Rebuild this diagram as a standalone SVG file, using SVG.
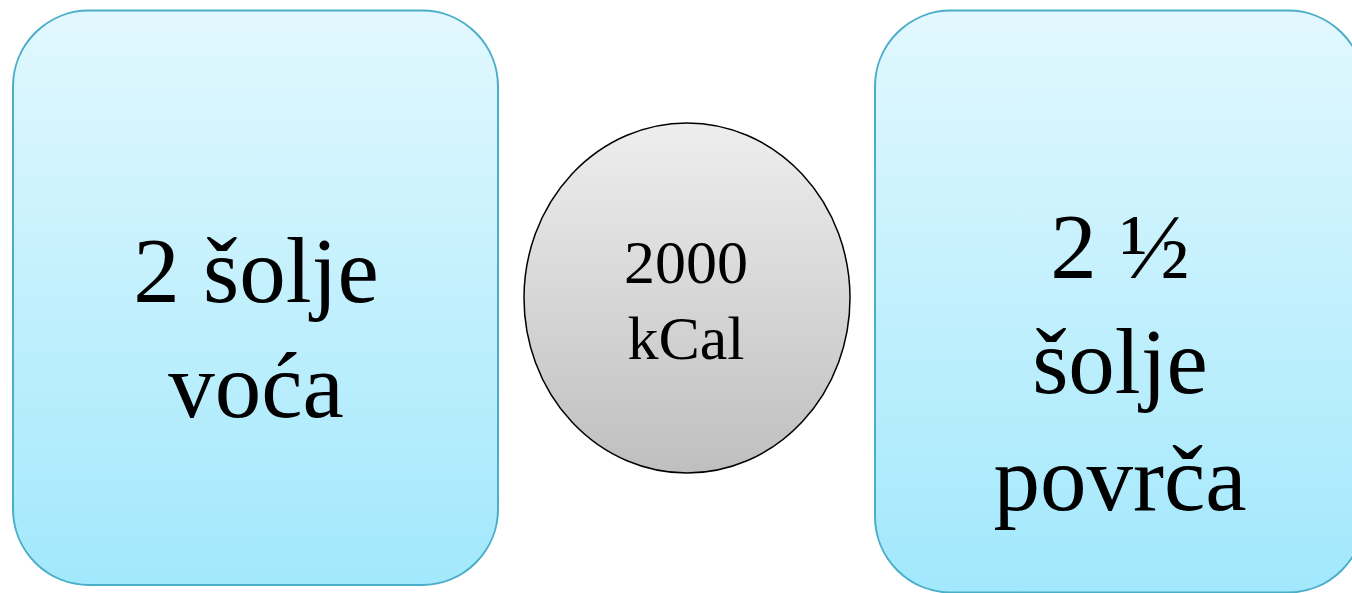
<svg xmlns="http://www.w3.org/2000/svg" width="1352" height="593" viewBox="0 0 1352 593">
<defs>
<linearGradient id="blueGrad" x1="0" y1="0" x2="0" y2="1">
<stop offset="0" stop-color="#e2f8fe"/>
<stop offset="1" stop-color="#a2e8fc"/>
</linearGradient>
<linearGradient id="greyGrad" x1="0" y1="0" x2="0" y2="1">
<stop offset="0" stop-color="#eeeeee"/>
<stop offset="1" stop-color="#bfbfbf"/>
</linearGradient>
<style>
.box{fill:url(#blueGrad);stroke:#4aaec8;stroke-width:2}
.circ{fill:url(#greyGrad);stroke:#000;stroke-width:1.5}
.big{font-family:"Liberation Serif","Times New Roman",serif;font-size:93px;fill:#000;text-anchor:middle}
.mid{font-family:"Liberation Serif","Times New Roman",serif;font-size:62px;fill:#000;text-anchor:middle}
</style>
</defs>
<rect width="1352" height="593" fill="#ffffff"/>
<g id="connectors"/>
<g id="node-left">
<rect class="box" x="13" y="10.5" width="485" height="574.5" rx="76" ry="76"/>
<text class="big" x="256" y="302">2 šolje</text>
<text class="big" x="256" y="417">voća</text>
</g>
<g id="node-center">
<ellipse class="circ" cx="687" cy="298" rx="163" ry="175"/>
<text class="mid" x="686" y="283">2000</text>
<text class="mid" x="686" y="359">kCal</text>
</g>
<g id="node-right">
<rect class="box" x="875" y="10.5" width="489" height="582" rx="76" ry="76"/>
<text class="big" x="1120" y="278">2 ½</text>
<text class="big" x="1120" y="393">šolje</text>
<text class="big" x="1120" y="510">povrča</text>
</g>
</svg>
